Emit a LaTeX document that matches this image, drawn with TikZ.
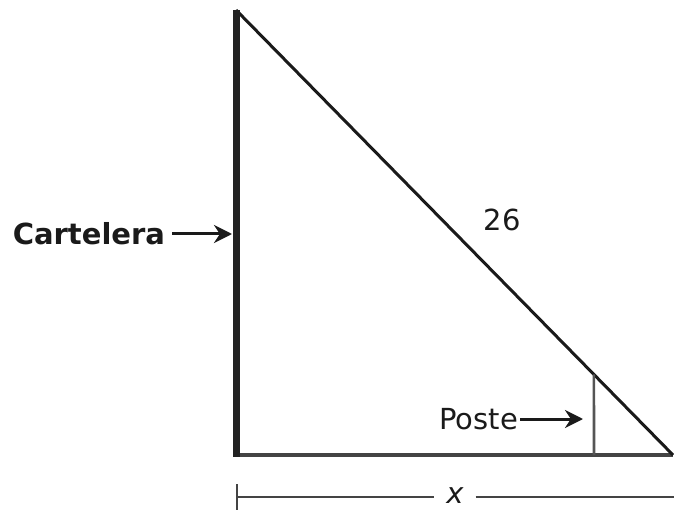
\documentclass[tikz,border=0pt]{standalone}
\usepackage{fontspec}
\setmainfont{DejaVu Sans}
\usetikzlibrary{arrows.meta,calc}
\definecolor{ink}{HTML}{1A1A1A}
\definecolor{wallink}{HTML}{222222}
\definecolor{groundink}{HTML}{444444}
\definecolor{poleink}{HTML}{555555}
\tikzset{
  label/.style={anchor=center,font=\fontsize{29bp}{33bp}\selectfont,text=ink},
  boldlabel/.style={label,font=\fontsize{29bp}{33bp}\selectfont\bfseries},
  wall/.style={draw=wallink,line width=7bp},
  slope/.style={draw=ink,line width=3bp},
  ground/.style={draw=groundink,line width=3.4bp},
  pole/.style={draw=poleink,line width=2.6bp},
  dim/.style={draw=groundink,line width=2.4bp},
  pointer/.style={draw=ink,line width=3bp,-{Stealth[length=18bp,width=18bp]}}
}
\begin{document}
\begin{tikzpicture}[x=1bp,y=-1bp,every node/.style={inner sep=0pt,outer sep=0pt}]
\path[use as bounding box] (0,0) rectangle (674,510);

\coordinate (top) at (236,10);
\coordinate (foot) at (236,455);
\coordinate (tip) at (673,455);
\coordinate (pole-foot) at (594,455);
\coordinate (pole-top) at ($(top)!0.819!(tip)$);

\draw[ground] (foot) -- (tip);
\draw[slope] (top) -- (tip);
\draw[pole] (pole-foot) -- (pole-top);
\draw[wall] (top) -- ([yshift=-1.7bp]foot);

\node[boldlabel,anchor=east] (cartelera) at (165,234) {Cartelera};
\coordinate (wall-mid) at (232,0);
\draw[pointer] ([xshift=7bp]cartelera.east) -- (cartelera.east -| wall-mid);

\node[label] (hyp) at (502,220) {26};

\node[label,anchor=east] (poste) at (518,419) {Poste};
\coordinate (pole-mid) at (583,0);
\draw[pointer] ([xshift=2bp]poste.east) -- (poste.east -| pole-mid);

\node[label,font=\fontsize{29bp}{33bp}\selectfont\itshape] (xlen) at (455,496) {x};
\coordinate (dim-left) at (237,497);
\coordinate (dim-right) at (674,497);
\coordinate (dim-tick-top) at (237,484);
\coordinate (dim-tick-bot) at (237,510);
\draw[dim] (dim-left) -- ([xshift=-12bp]xlen.west |- dim-left);
\draw[dim] ([xshift=12bp]xlen.east |- dim-right) -- (dim-right);
\draw[dim] (dim-tick-top) -- (dim-tick-bot);
\end{tikzpicture}
\end{document}
